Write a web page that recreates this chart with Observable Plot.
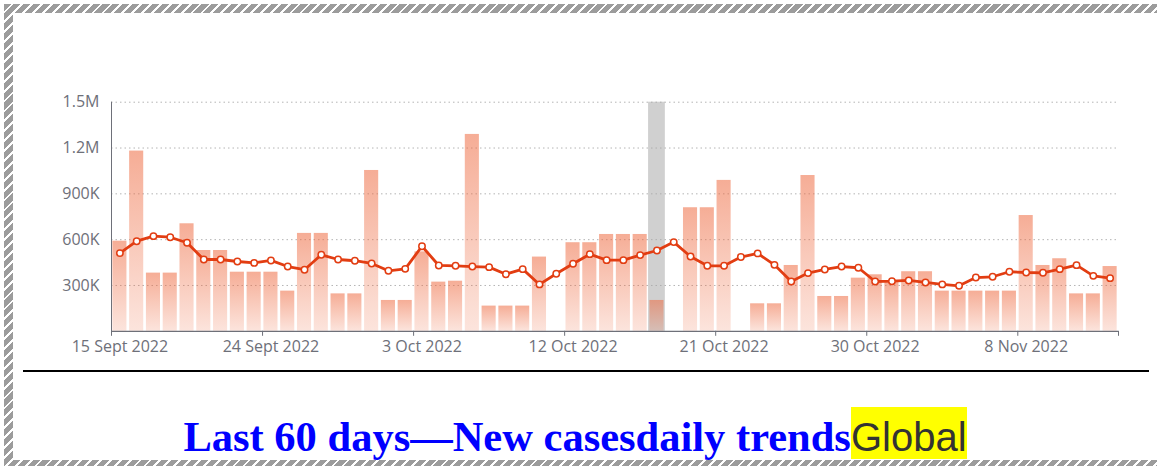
<!DOCTYPE html>
<html>
<head>
<meta charset="utf-8">
<script src="https://cdn.jsdelivr.net/npm/d3@7"></script>
<script src="https://cdn.jsdelivr.net/npm/@observablehq/plot@0.6"></script>
<style>
html, body { margin: 0; padding: 0; background: #fff; width: 1157px; height: 466px; overflow: hidden; }
#frame { position: absolute; left: 4px; top: 4px; width: 1170px; height: 465px;
  background: repeating-linear-gradient(135deg, #9c9c9c 0 5px, #fff 5px 7px); }
#inner { position: absolute; left: 9px; top: 9px; right: 0; bottom: 9px; background: #fff; }
#chart { position: absolute; left: 13px; top: 13px; }
#rule { position: absolute; left: 23px; top: 370px; width: 1126px; height: 2px; background: #000; }
#title { position: absolute; left: 0; width: 1150px; top: 412px; text-align: center;
  font-family: "Liberation Serif", serif; font-weight: bold; font-size: 42.5px; line-height: 50px;
  color: #00f; white-space: nowrap; }
#title span { font-family: "Liberation Sans", sans-serif; font-weight: normal; font-size: 40px;
  color: #333; background: #ff0; padding-top: 8px; }
</style>
</head>
<body>
<div id="frame"><div id="inner"></div></div>
<div id="chart"></div>
<div id="rule"></div>
<div id="title">Last 60 days—New casesdaily trends<span>Global</span></div>
<script>
// ---- data ----
const dates = [
  "2022-09-15","2022-09-16","2022-09-17","2022-09-18","2022-09-19","2022-09-20","2022-09-21","2022-09-22",
  "2022-09-23","2022-09-24","2022-09-25","2022-09-26","2022-09-27","2022-09-28","2022-09-29","2022-09-30",
  "2022-10-01","2022-10-02","2022-10-03","2022-10-04","2022-10-05","2022-10-06","2022-10-07","2022-10-08",
  "2022-10-09","2022-10-10","2022-10-11","2022-10-12","2022-10-13","2022-10-14","2022-10-15","2022-10-16",
  "2022-10-17","2022-10-18","2022-10-19","2022-10-20","2022-10-21","2022-10-22","2022-10-23","2022-10-24",
  "2022-10-25","2022-10-26","2022-10-27","2022-10-28","2022-10-29","2022-10-30","2022-10-31","2022-11-01",
  "2022-11-02","2022-11-03","2022-11-04","2022-11-05","2022-11-06","2022-11-07","2022-11-08","2022-11-09",
  "2022-11-10","2022-11-11","2022-11-12","2022-11-13"
];
const newCases = [
  590000, 1180000, 381000, 381000, 704000, 529000, 529000, 387000, 387000, 387000,
  263000, 641000, 641000, 245000, 245000, 1053000, 202000, 202000, 520000, 322000,
  328000, 1289000, 165000, 165000, 165000, 486000, 0, 580000, 580000, 634000,
  634000, 634000, 202000, 0, 809000, 809000, 988000, 0, 180000, 180000,
  431000, 1020000, 228000, 228000, 348000, 370000, 322000, 390000, 390000, 263000,
  263000, 263000, 263000, 263000, 758000, 431000, 475000, 245000, 245000, 424000
];
const avg7 = [
  512000, 590000, 623000, 616000, 580000, 470000, 470000, 457000, 448000, 464000,
  424000, 403000, 501000, 470000, 462000, 444000, 396000, 409000, 557000, 431000,
  429000, 424000, 420000, 374000, 407000, 307000, 377000, 442000, 505000, 466000,
  466000, 499000, 529000, 584000, 490000, 429000, 429000, 486000, 510000, 435000,
  326000, 381000, 405000, 424000, 416000, 326000, 328000, 333000, 320000, 307000,
  298000, 352000, 357000, 390000, 385000, 383000, 407000, 433000, 363000, 348000
];
const highlightDate = "2022-10-17";
const xTickDates = ["2022-09-15","2022-09-24","2022-10-03","2022-10-12","2022-10-21","2022-10-30","2022-11-08"];
const xTickLabels = ["15 Sept 2022","24 Sept 2022","3 Oct 2022","12 Oct 2022","21 Oct 2022","30 Oct 2022","8 Nov 2022"];
const yTicks = [300000, 600000, 900000, 1200000, 1500000];
const yTickLabels = ["300K","600K","900K","1.2M","1.5M"];

// ---- layout ----
const W = 1130, H = 350, ML = 98, MR = 25, MT = 88.7, MB = 32.2;
const pad = 0.16;
const step = (W - ML - MR) / dates.length;
const yMax = yTicks[yTicks.length - 1];
const axisColor = "#6e7079";
const lineColor = "#e23d12";

const rows = dates.map((d, i) => ({date: d, cases: newCases[i], avg: avg7[i]}));
const hl = [{date: highlightDate, top: yMax}];

const marks = [
  Plot.ruleY(yTicks, {stroke: "#b4b4b4", strokeDasharray: "1.5,3"}),
  Plot.barY(hl, {x: "date", y: "top", fill: "#aaa", fillOpacity: 0.55,
    insetLeft: -step * pad / 2, insetRight: -step * pad / 2}),
  Plot.barY(rows, {x: "date", y: "cases", fill: "url(#barGrad)"}),
  Plot.ruleY([0], {stroke: axisColor, strokeWidth: 1.3}),
  Plot.line(rows, {x: "date", y: "avg", stroke: lineColor, strokeWidth: 2.8}),
  Plot.dot(rows, {x: "date", y: "avg", r: 3.2, fill: "#fff", stroke: lineColor, strokeWidth: 1.5}),
  Plot.axisY({ticks: yTicks, tickFormat: d => yTickLabels[yTicks.indexOf(d)], tickSize: 0,
    tickPadding: 12, fontSize: 16, color: axisColor, label: null}),
  Plot.axisX({ticks: xTickDates, tickFormat: d => xTickLabels[xTickDates.indexOf(d)], tickSize: 0,
    tickPadding: 9, fontSize: 16, color: axisColor, label: null}),
  Plot.axisX({ticks: xTickDates, tickFormat: () => "", tickSize: 5, dx: -step / 2, color: axisColor, label: null}),
  Plot.axisX({ticks: [dates[dates.length - 1]], tickFormat: () => "", tickSize: 5, dx: step / 2, color: axisColor, label: null})
];
try { marks.push(Plot.frame({anchor: "left", stroke: axisColor})); } catch (e) {}

const svg = Plot.plot({
  width: W, height: H,
  marginLeft: ML, marginRight: MR, marginTop: MT, marginBottom: MB,
  style: {fontFamily: "'Open Sans', sans-serif", background: "transparent", overflow: "visible"},
  x: {type: "band", domain: dates, paddingInner: pad, paddingOuter: pad / 2, axis: null},
  y: {domain: [0, yMax], axis: null},
  marks
});

d3.select(svg).insert("defs", ":first-child").html(
  '<linearGradient id="barGrad" x1="0" y1="0" x2="0" y2="1">' +
  '<stop offset="0" stop-color="#ee6a40" stop-opacity="0.55"/>' +
  '<stop offset="1" stop-color="#ee6a40" stop-opacity="0.18"/>' +
  '</linearGradient>');

document.getElementById("chart").appendChild(svg);
</script>
</body>
</html>
